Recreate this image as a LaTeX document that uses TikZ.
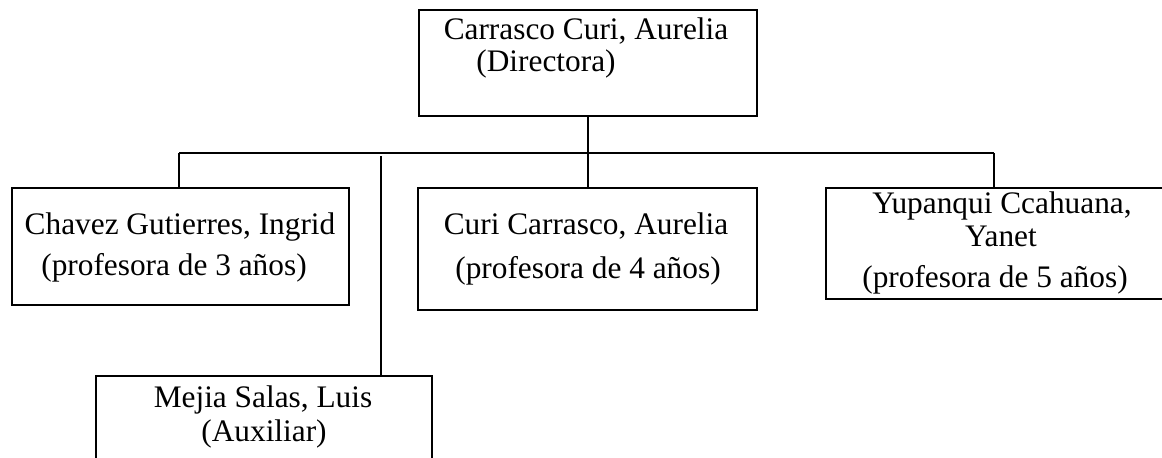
\documentclass[tikz,border=0pt]{standalone}
\usepackage{fontspec}
\setmainfont{Liberation Serif}
\usetikzlibrary{positioning}

\tikzset{
  caja/.style={draw, line width=1.8pt, outer sep=0pt, inner sep=0pt},
  texto/.style={anchor=base, inner sep=0pt, font=\fontsize{23.5}{28}\selectfont},
  linea/.style={line width=1.8pt},
  delgada/.style={line width=0.9pt}
}

\begin{document}
\begin{tikzpicture}[x=0.75pt, y=-0.75pt]

    \useasboundingbox (0,0) rectangle (1162,457);
    \clip (0,0) rectangle (1162,457);

    % cajas
    \node [caja, minimum width=253.5pt, minimum height=79.5pt] (dir) at (588,63) {};
    \node [caja, minimum width=252.75pt, minimum height=87.75pt] (chavez) at (180.5,246.5) {};
    \node [caja, minimum width=254.25pt, minimum height=91.5pt] (curi) at (587.5,249) {};
    \node [caja, minimum width=259.5pt, minimum height=83.25pt] (yupanqui) at (999,243.5) {};
    \node [caja, minimum width=252pt, minimum height=67.5pt] (mejia) at (264,421) {};

    % textos
    \node [texto] (dir1) at (586,39) {Carrasco Curi, Aurelia};
    \node [texto] (dir2) at (546,71) {(Directora)};
    \node [texto] (chavez1) at (180,234) {Chavez Gutierres, Ingrid};
    \node [texto] (chavez2) at (174,275) {(profesora de 3 años)};
    \node [texto] (curi1) at (586,234) {Curi Carrasco, Aurelia};
    \node [texto] (curi2) at (588,278) {(profesora de 4 años)};
    \node [texto] (yup1) at (1002,213) {Yupanqui Ccahuana,};
    \node [texto] (yup2) at (1001,246) {Yanet};
    \node [texto] (yup3) at (995,287) {(profesora de 5 años)};
    \node [texto] (mejia1) at (263,407) {Mejia Salas, Luis};
    \node [texto] (mejia2) at (264,441) {(Auxiliar)};

    \coordinate (busL) at (179,153);
    \coordinate (busR) at (994,153);
    \coordinate (aux) at (381,156);

    \draw [linea] (dir.south) -- (dir.south |- busL);
    \draw [linea] (busL) -- (busR);
    \draw [linea] (busL) -- (busL |- chavez.north);
    \draw [linea] (dir.south |- busL) -- (dir.south |- curi.north);
    \draw [linea] (busR) -- (busR |- yupanqui.north);
    \draw [delgada] (aux) -- (aux |- mejia.north);

\end{tikzpicture}
\end{document}
